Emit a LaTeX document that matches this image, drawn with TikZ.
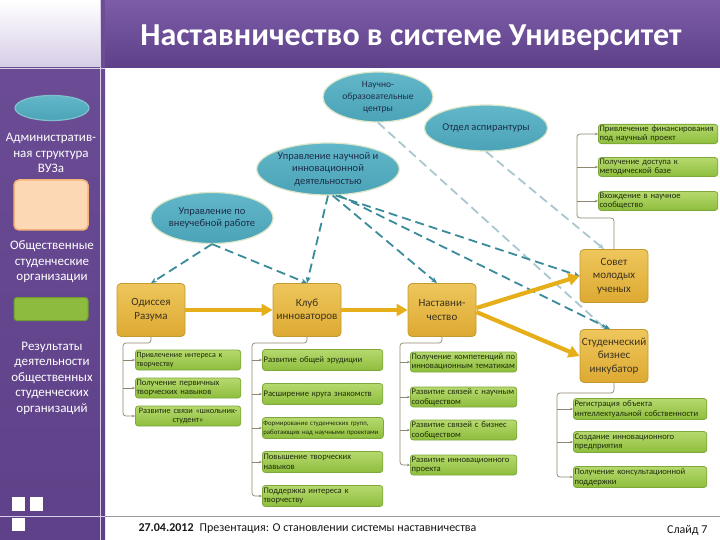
\documentclass[tikz,border=0pt]{standalone}
\usepackage{fontspec}
\setmainfont{Carlito}
\usetikzlibrary{shapes.geometric,arrows.meta,calc}
\definecolor{sideTop}{HTML}{6C4D96}
\definecolor{sideBot}{HTML}{5E4188}
\definecolor{barTop}{HTML}{7D5CA8}
\definecolor{barBot}{HTML}{5D4088}
\definecolor{lav}{HTML}{D6CDE6}
\definecolor{tealF}{HTML}{4BA3B7}
\definecolor{tealL}{HTML}{62B7C9}
\definecolor{tealD}{HTML}{DCE6C8}
\definecolor{ellT}{HTML}{1E2E4A}
\definecolor{yT}{HTML}{EEC65C}
\definecolor{yB}{HTML}{DDAA32}
\definecolor{yD}{HTML}{C49A2E}
\definecolor{yTxt}{HTML}{3B3320}
\definecolor{gT}{HTML}{B6D96E}
\definecolor{gB}{HTML}{8EBE3D}
\definecolor{gD}{HTML}{7EA83A}
\definecolor{gTxt}{HTML}{1F2C0C}
\definecolor{arrC}{HTML}{E6AF1A}
\definecolor{dashC}{HTML}{3A8B9B}
\definecolor{lightC}{HTML}{A9C7CF}
\definecolor{brkC}{HTML}{8E8770}
\definecolor{peachF}{HTML}{FDD8B4}
\definecolor{peachD}{HTML}{F4B27A}
\definecolor{sgF}{HTML}{8CBB3F}
\definecolor{sgD}{HTML}{6E9E2E}
\begin{document}
\begin{tikzpicture}[x=1pt,y=-1pt,
  ell/.style={ellipse, draw=tealD, line width=1.2pt, top color=tealL, bottom color=tealF, align=center,
    font=\fontsize{10.5}{12.5}\selectfont, text=ellT, inner sep=0pt},
  ybox/.style={rectangle, rounded corners=4pt, draw=yD, line width=0.8pt,
    top color=yT, bottom color=yB, minimum width=68pt, minimum height=53pt,
    align=center, font=\fontsize{11}{13.5}\selectfont, text=yTxt, inner sep=1pt},
  gbox/.style={rectangle, rounded corners=3pt, draw=gD, line width=0.8pt,
    top color=gT, bottom color=gB, anchor=west, align=left,
    font=\fontsize{8.6}{9.6}\selectfont, text=gTxt, inner sep=1.2pt, minimum height=20pt},
  bigarrow/.style={draw=arrC, line width=4.2pt, -{Triangle[length=11pt,width=12pt]}},
  dsh/.style={draw=dashC, line width=1.8pt, dash pattern=on 9pt off 5pt,
    -{Stealth[length=6pt,width=5pt]}},
  lsh/.style={draw=lightC, line width=1.8pt, dash pattern=on 9pt off 5pt,
    -{Stealth[length=6pt,width=5pt]}},
  brk/.style={draw=brkC, line width=0.7pt, rounded corners=3pt,
    -{Stealth[length=3pt,width=2.5pt]}},
  side/.style={align=center, text=white, font=\fontsize{13}{15.5}\selectfont}
]
\useasboundingbox (0,0) rectangle (720,540);
\fill[white] (0,0) rectangle (720,540);
% sidebar
\shade[top color=sideTop, bottom color=sideBot] (0,0) rectangle (105,540);
\shade[top color=white, bottom color=lav] (0,0) rectangle (100,67);
\draw[lav, line width=0.8pt] (100.5,0) -- (100.5,540);
\draw[lav, line width=0.8pt] (0,68) -- (105,68);
% title bar
\shade[top color=barTop, bottom color=barBot] (105,0) rectangle (720,68);
\node[anchor=base, text=white, font=\fontsize{32}{34}\selectfont\bfseries] (title) at (411,46)
  {Наставничество в системе Университет};
% footer
\draw[lav, line width=0.8pt] (0,516) -- (105,516);
\draw[gray!80, line width=0.8pt] (105,516) -- (720,516);
\fill[white] (12,497) rectangle (25,511);
\fill[white] (30,497) rectangle (43,511);
\fill[white] (12,518) rectangle (25,531);
\node[anchor=base west, font=\fontsize{12}{14}\selectfont, text=black!90] (foot) at (135,531)
  {\textbf{27.04.2012}\hspace{6pt}Презентация: О становлении системы наставничества};
\node[anchor=base east, font=\fontsize{12}{14}\selectfont, text=black!90] (slide) at (711,533) {Слайд 7};
% sidebar legend
\node[ell, minimum width=74pt, minimum height=25pt, draw=tealF!70] (legE) at (52,108) {};
\node[side] (legEt) at (51,153) {Административ-\\ная структура\\ВУЗа};
\node[rectangle, rounded corners=5pt, draw=peachD, line width=1.5pt, fill=peachF,
  minimum width=74pt, minimum height=50pt] (legP) at (51,205) {};
\node[side] (legPt) at (52,262) {Общественные\\студенческие\\организации};
\node[rectangle, rounded corners=3pt, draw=sgD, line width=1pt, fill=sgF,
  minimum width=74pt, minimum height=23pt] (legG) at (51,309) {};
\node[side] (legGt) at (52,378) {Результаты\\деятельности\\общественных\\студенческих\\организаций};
% ellipses
\node[ell, minimum width=110pt, minimum height=50pt, font=\fontsize{9.5}{12}\selectfont] (noc) at (378,97) {Научно-\\образовательные\\центры};
\node[ell, minimum width=110pt, minimum height=46pt] (asp) at (486,128) {Отдел аспирантуры};
\node[ell, minimum width=127pt, minimum height=52pt] (upr) at (328,169) {Управление научной и\\инновационной\\деятельностью};
\node[ell, minimum width=120pt, minimum height=51pt] (vne) at (212,218) {Управление по\\внеучебной работе};
% yellow boxes
\node[ybox] (ody) at (151,310) {Одиссея\\Разума};
\node[ybox] (klub) at (307,310) {Клуб\\инноваторов};
\node[ybox] (nas) at (442,310) {Наставни-\\чество};
\node[ybox] (sov) at (614,276) {Совет\\молодых\\ученых};
\node[ybox] (biz) at (614,356) {Студенческий\\бизнес\\инкубатор};
% green boxes: Совет
\node[gbox, text width=117pt, minimum height=19pt] (sg1) at (598,134) {Привлечение финансирования\\под научный проект};
\node[gbox, text width=117pt, minimum height=19pt] (sg2) at (598,167) {Получение доступа к\\методической базе};
\node[gbox, text width=117pt, minimum height=19pt] (sg3) at (598,201) {Вхождение в научное\\сообщество};
% Одиссея
\node[gbox, text width=103pt, font=\fontsize{8}{9.4}\selectfont] (og1) at (135,360) {Привлечение интереса к\\творчеству};
\node[gbox, text width=103pt] (og2) at (135,388) {Получение первичных\\творческих навыков};
\node[gbox, text width=103pt, align=center, font=\fontsize{8.3}{9.6}\selectfont] (og3) at (135,416) {Развитие связи «школьник-\\студент»};
% Клуб
\node[gbox, text width=118pt, minimum height=21pt] (kg1) at (262,360) {Развитие общей эрудиции};
\node[gbox, text width=118pt, minimum height=21pt] (kg2) at (262,394) {Расширение круга знакомств};
\node[gbox, text width=119pt, minimum height=21pt, inner sep=1pt, font=\fontsize{6.8}{8.6}\selectfont] (kg3) at (262,428) {Формирование студенческих групп,\\работающих над научными проектами};
\node[gbox, text width=118pt, minimum height=21pt] (kg4) at (262,462) {Повышение творческих\\навыков};
\node[gbox, text width=118pt, minimum height=21pt] (kg5) at (262,496) {Поддержка интереса к\\творчеству};
% Наставничество
\node[gbox, text width=104pt] (ng1) at (410,362) {Получение компетенций по\\инновационным тематикам};
\node[gbox, text width=104pt] (ng2) at (410,397) {Развитие связей с научным\\сообществом};
\node[gbox, text width=104pt] (ng3) at (410,430) {Развитие связей с бизнес\\сообществом};
\node[gbox, text width=104pt] (ng4) at (410,465) {Развитие инновационного\\проекта};
% Бизнес
\node[gbox, text width=131pt, minimum height=21pt] (bg1) at (573,409) {Регистрация объекта\\интеллектуальной собственности};
\node[gbox, text width=131pt, minimum height=21pt] (bg2) at (573,442) {Создание инновационного\\предприятия};
\node[gbox, text width=131pt, minimum height=21pt] (bg3) at (573,477) {Получение консультационной\\поддержки};
% brackets
\coordinate (sovB) at (577,218);
\draw[brk] (sov.north) |- (sovB) |- (sg1.west);
\draw[brk] (sovB |- sg2.west) -- (sg2.west);
\draw[brk] (sovB |- sg3.west) -- (sg3.west);
\coordinate (odyB) at (123,343);
\draw[brk] (ody.south) |- (odyB) |- (og3.west);
\draw[brk] (odyB |- og1.west) -- (og1.west);
\draw[brk] (odyB |- og2.west) -- (og2.west);
\coordinate (klubB) at (252,343);
\draw[brk] (klub.south) |- (klubB) |- (kg5.west);
\draw[brk] (klubB |- kg1.west) -- (kg1.west);
\draw[brk] (klubB |- kg2.west) -- (kg2.west);
\draw[brk] (klubB |- kg3.west) -- (kg3.west);
\draw[brk] (klubB |- kg4.west) -- (kg4.west);
\coordinate (nasB) at (400,343);
\draw[brk] (nas.south) |- (nasB) |- (ng4.west);
\draw[brk] (nasB |- ng1.west) -- (ng1.west);
\draw[brk] (nasB |- ng2.west) -- (ng2.west);
\draw[brk] (nasB |- ng3.west) -- (ng3.west);
\coordinate (bizB) at (557,393);
\draw[brk] (biz.south) |- (bizB) |- (bg3.west);
\draw[brk] (bizB |- bg1.west) -- (bg1.west);
\draw[brk] (bizB |- bg2.west) -- (bg2.west);
% dashed connectors
\draw[lsh] (noc.south) -- ([xshift=-8pt]biz.north);
\draw[lsh] (asp.south) -- ([xshift=-10pt]sov.north);
\draw[dsh] (vne.south) -- (ody.north);
\draw[dsh] (vne.south) -- (klub.north);
\draw[dsh] (upr.south) -- (klub.north);
\draw[dsh] (upr.-80) -- ([xshift=-5pt]nas.north);
\draw[dsh] (upr.-74) -- (sov.west);
\draw[dsh] (upr.-68) -- ([xshift=-4pt]biz.north);
% main arrows
\draw[bigarrow] (ody.east) -- (klub.west);
\draw[bigarrow] (klub.east) -- (nas.west);
\draw[bigarrow] ([yshift=2pt]nas.east) -- (sov.west);
\draw[bigarrow] ([yshift=-2pt]nas.east) -- (biz.west);
\end{tikzpicture}
\end{document}
